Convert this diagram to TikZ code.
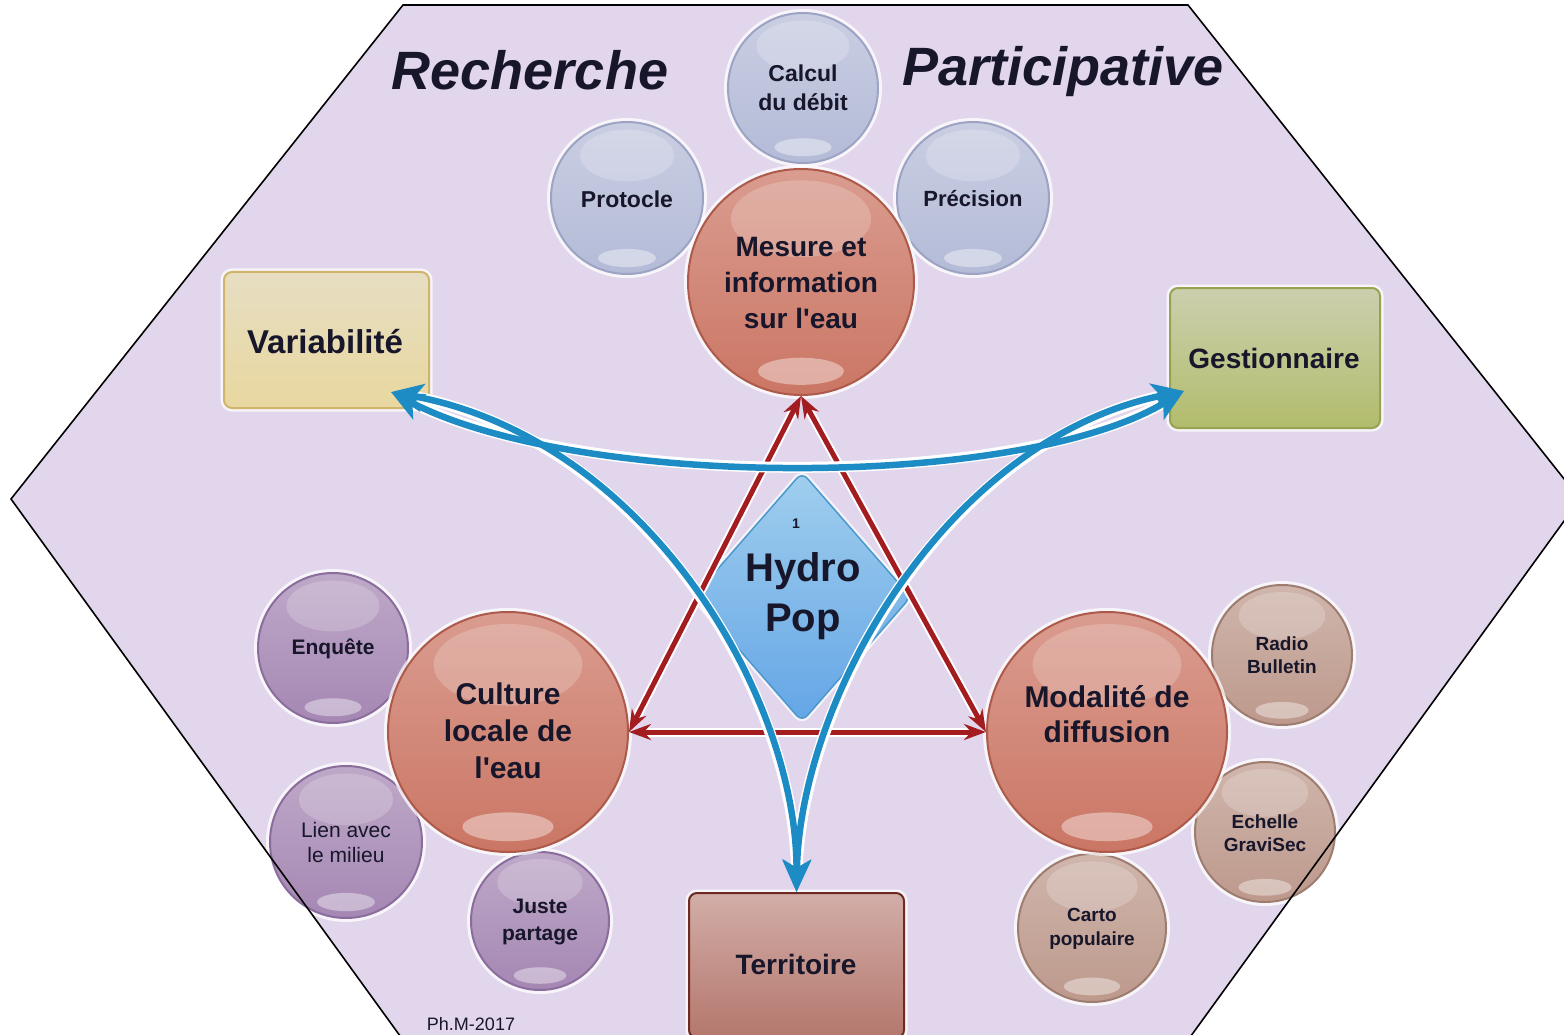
\documentclass[tikz,border=0pt]{standalone}
\usepackage{fontspec}
\setmainfont{Liberation Sans}
\usetikzlibrary{shapes.geometric,arrows.meta,calc}
\definecolor{hexfill}{HTML}{E2D6EC}
\definecolor{txtc}{HTML}{17162A}
\definecolor{bgc}{HTML}{B4BBD7}
\definecolor{bgb}{HTML}{9CA3C3}
\definecolor{rc}{HTML}{CB7664}
\definecolor{rb}{HTML}{AD5A4A}
\definecolor{pc}{HTML}{A587B3}
\definecolor{pb}{HTML}{8A6D9C}
\definecolor{bc}{HTML}{BD998C}
\definecolor{bb}{HTML}{9E7D70}
\definecolor{redc}{HTML}{A31C20}
\definecolor{bluec}{HTML}{1E8CC4}
\definecolor{varc}{HTML}{E8D79F}
\definecolor{varb}{HTML}{CFB46C}
\definecolor{gesc}{HTML}{B2BC6C}
\definecolor{gesb}{HTML}{98A250}
\definecolor{terc}{HTML}{B4776D}
\definecolor{terb}{HTML}{6E2A22}
\definecolor{diac}{HTML}{6DB4E4}
\definecolor{diab}{HTML}{4A98CC}
\newcommand{\fsb}[2]{\fontsize{#1pt}{#2pt}\selectfont\bfseries}
\newcommand{\fsr}[2]{\fontsize{#1pt}{#2pt}\selectfont}
% #1 name, #2 x, #3 y, #4 r, #5 fill, #6 border
\newcommand{\bubble}[6]{%
  \node[bub, minimum size={2*#4 pt}, top color=#5!72!white, bottom color=#5, draw=#6] (#1) at (#2,#3) {};
  \fill[white, opacity=.20] (#2,#3-0.56*#4) ellipse [x radius={0.62*#4 pt}, y radius={0.34*#4 pt}];
  \fill[white, opacity=.40] (#2,#3+0.79*#4) ellipse [x radius={0.38*#4 pt}, y radius={0.12*#4 pt}];
}
\begin{document}
\begin{tikzpicture}[x=1pt,y=-1pt,
  txt/.style={text=txtc, align=center, inner sep=0pt},
  bub/.style={circle, inner sep=0pt, line width=2pt, preaction={draw=white, line width=8pt, opacity=.75}},
  box/.style={rectangle, rounded corners=8pt, line width=2pt, inner sep=0pt, preaction={draw=white, line width=7pt, opacity=.75}},
  redhalo/.style={draw=white, line width=9pt, shorten <=12pt, shorten >=12pt},
  redarr/.style={draw=redc, line width=5pt, {Stealth[length=22pt,width=16pt]}-{Stealth[length=22pt,width=16pt]}},
  bluehalo/.style={draw=white, line width=11pt, shorten <=16pt, shorten >=16pt},
  bluearr/.style={draw=bluec, line width=6.5pt, {Stealth[length=32pt,width=28pt,inset=8pt]}-{Stealth[length=32pt,width=28pt,inset=8pt]}}
]
\useasboundingbox (0,0) rectangle (1564,1035);
% hexagon background
\fill[hexfill] (11,499) -- (403,5) -- (1188,5) -- (1580,499) -- (1188,1040) -- (403,1040) -- cycle;

% titles
\node[txt, font=\fontsize{54pt}{60pt}\selectfont\bfseries\itshape] (rech) at (530,70) {Recherche};
\node[txt, font=\fontsize{54pt}{60pt}\selectfont\bfseries\itshape] (part) at (1063,72) {Participative};

% top group
\bubble{calc}{803}{88}{75}{bgc}{bgb}
\bubble{prot}{627}{198}{76}{bgc}{bgb}
\bubble{prec}{973}{198}{76}{bgc}{bgb}
\bubble{mes}{801}{282}{113}{rc}{rb}
\node[txt, font=\fsb{23}{29}] (calc-t) at (803,88) {Calcul\\du débit};
\node[txt, font=\fsb{23}{28}] (prot-t) at (627,199) {Protocle};
\node[txt, font=\fsb{22}{28}] (prec-t) at (973,199) {Précision};
\node[txt, font=\fsb{28}{36}] (mes-t) at (801,283) {Mesure et\\information\\sur l\textquotesingle eau};

% left group
\bubble{enq}{333}{648}{75}{pc}{pb}
\bubble{lien}{346}{842}{76}{pc}{pb}
\bubble{just}{540}{921}{69}{pc}{pb}
\bubble{cul}{508}{732}{120}{rc}{rb}
\node[txt, font=\fsb{21}{26}] (enq-t) at (333,649) {Enquête};
\node[txt, font=\fsr{21}{25}] (lien-t) at (346,842) {Lien avec\\le milieu};
\node[txt, font=\fsb{21}{27}] (just-t) at (540,922) {Juste\\partage};
\node[txt, font=\fsb{30}{37}] (cul-t) at (508,731) {Culture\\locale de\\l\textquotesingle eau};

% right group
\bubble{radio}{1282}{655}{70}{bc}{bb}
\bubble{ech}{1265}{832}{70}{bc}{bb}
\bubble{carto}{1092}{928}{74}{bc}{bb}
\bubble{mod}{1107}{732}{120}{rc}{rb}
\node[txt, font=\fsb{19}{23}] (radio-t) at (1282,655) {Radio\\Bulletin};
\node[txt, font=\fsb{19}{23}] (ech-t) at (1265,833) {Echelle\\GraviSec};
\node[txt, font=\fsb{19}{24}] (carto-t) at (1092,929) {Carto\\populaire};
\node[txt, font=\fsb{30}{35}] (mod-t) at (1107,714) {Modalité de\\diffusion};

% boxes
\node[box, minimum width=205pt, minimum height=136pt, top color=varc!55!white!90!gray, bottom color=varc, draw=varb] (var) at (326.5,340) {};
\node[txt, font=\fsb{33}{38}] (var-t) at (325,342) {Variabilité};
\node[box, minimum width=210pt, minimum height=140pt, top color=gesc!50!white!85!gray, bottom color=gesc, draw=gesb] (ges) at (1275,358) {};
\node[txt, font=\fsb{28}{32}] (ges-t) at (1274,358) {Gestionnaire};
\node[box, minimum width=215pt, minimum height=145pt, top color=terc!60!white, bottom color=terc, draw=terb] (ter) at (796.5,965.5) {};
\node[txt, font=\fsb{28}{32}] (ter-t) at (796,964) {Territoire};

% central diamond
\node[diamond, minimum width=218pt, minimum height=250pt, inner sep=0pt, rounded corners=8pt,
      top color=diac!65!white, bottom color=diac!92!blue, draw=diab, line width=1.5pt,
      preaction={draw=white, line width=6pt, opacity=.7}] (hp) at (802,597) {};
\node[txt, font=\fsb{14}{16}] (hp-n) at (796,524) {1};
\node[txt, font=\fsb{40}{50}] (hp-t) at (803,596) {Hydro\\Pop};

% red triangle
\draw[redhalo] (mes.south) -- (cul.east);
\draw[redhalo] (mes.south) -- (mod.west);
\draw[redhalo] (cul.east) -- (mod.west);
\draw[redarr] (mes.south) -- (cul.east);
\draw[redarr] (mes.south) -- (mod.west);
\draw[redarr] (cul.east) -- (mod.west);

% blue curves
\coordinate (vA) at ($(var.south east)+(-39,-17)$);
\coordinate (gA) at ($(ges.west)+(15,33)$);
\coordinate (tA) at (ter.north);
\draw[bluehalo] (vA) .. controls (580,490) and (1020,490) .. (gA);
\draw[bluehalo] (vA) .. controls (650,440) and (797,700) .. (tA);
\draw[bluehalo] (gA) .. controls (945,440) and (800,700) .. (tA);
\draw[bluearr] (vA) .. controls (580,490) and (1020,490) .. (gA);
\draw[bluearr] (vA) .. controls (650,440) and (797,700) .. (tA);
\draw[bluearr] (gA) .. controls (945,440) and (800,700) .. (tA);

% hexagon border
\draw[black, line width=1.6pt] (403,1040) -- (11,499) -- (403,5) -- (1188,5) -- (1580,499) -- (1188,1040);

\node[txt, font=\fsr{18}{20}] (ph) at (471,1024) {Ph.M-2017};
\end{tikzpicture}
\end{document}
